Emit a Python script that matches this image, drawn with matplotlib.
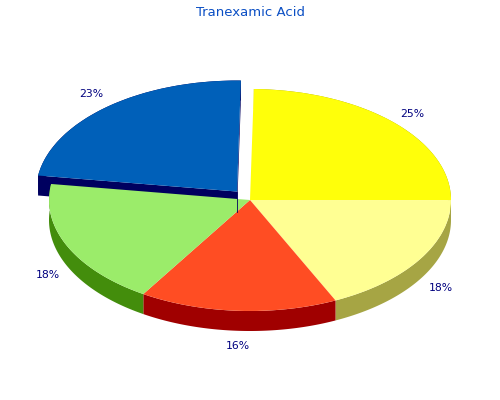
import numpy as np
import matplotlib
matplotlib.use('Agg')
import matplotlib.pyplot as plt
from matplotlib.collections import PolyCollection

title = 'Tranexamic Acid'
values = [24.7, 18.0, 15.9, 18.4, 23.0]
explode = [0, 0, 0, 0, 0.1]
top_colors = ['#FFFF0A', '#FFFF93', '#FF4D23', '#9BEC6A', '#0060B9']
wall_colors = ['#A6A500', '#A6A544', '#A00000', '#438D0C', '#00005F']
# small nudges for the percent labels, pixels right and down
label_nudge = [(0, 2), (-1, 1), (1, 1), (4, 2), (1, -2)]

# pie sizes in pixels on the 500x400 canvas
rx, ry, depth_px = 201, 111, 20
depth = depth_px / ry

fig = plt.figure(figsize=(5, 4), dpi=100)
ax = fig.add_axes([0, 0, 1, 1])

wedges, _, pcts = ax.pie(values, explode=explode, colors=top_colors, startangle=88.9,
                         counterclock=False, autopct='%.0f%%', pctdistance=1.13,
                         wedgeprops={'linewidth': 0})
ax.set_aspect('auto')
ax.set_xlim(-250 / rx, 250 / rx)
ax.set_ylim(-200 / ry, 200 / ry)


def band(xs, ys):
    # outline swept downwards, as one polygon
    return np.c_[np.r_[xs, xs[::-1]], np.r_[ys, ys[::-1] - depth]]


# Draw the side of one slice, the cut faces only show on the pulled out one
def add_wall(wedge, color, z, cut_faces):
    t = np.radians(np.linspace(wedge.theta1, wedge.theta2, 200))
    cx, cy = wedge.center
    xs = cx + wedge.r * np.cos(t)
    ys = cy + wedge.r * np.sin(t)
    polys = [band(xs, ys)]
    if cut_faces:
        polys.append(band(np.array([cx, xs[0]]), np.array([cy, ys[0]])))
        polys.append(band(np.array([cx, xs[-1]]), np.array([cy, ys[-1]])))
    ax.add_collection(PolyCollection(polys, facecolors=color, edgecolors='none', zorder=z))


# The pulled out slice goes behind the others
for i, wedge in enumerate(wedges):
    pulled = explode[i] > 0
    add_wall(wedge, wall_colors[i], 1 if pulled else 3, pulled)
    wedge.set_zorder(2 if pulled else 4)
    if pulled:
        # its inner edge still shows as a hairline across the green slice
        cx, cy = wedge.center
        ax.plot([cx, cx], [cy, cy - depth], color=wall_colors[i], lw=0.6, zorder=5)

for pct, (dx, dy) in zip(pcts, label_nudge):
    x, y = pct.get_position()
    if y < 0:
        y -= depth
    pct.set_position((x + dx / rx, y - dy / ry))
    pct.set_color('#00007F')
    pct.set_fontsize(7.8)

fig.text(0.5, 0.97, title, color='#0B4FC4', fontsize=9.5, ha='center', va='center')

fig.savefig('out.png', dpi=100)
